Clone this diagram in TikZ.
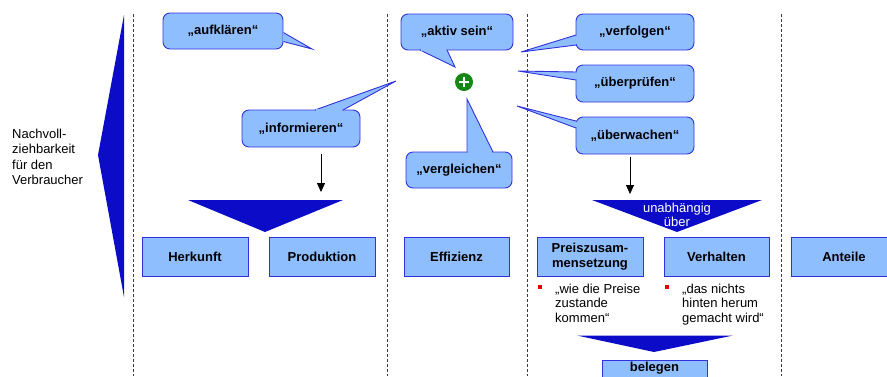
\documentclass[tikz,border=0pt]{standalone}
\usepackage{fontspec}
\setmainfont{Liberation Sans}
\usetikzlibrary{calc,arrows.meta}
\definecolor{cfill}{RGB}{143,190,255}
\definecolor{cline}{RGB}{50,50,220}
\definecolor{dblue}{RGB}{12,12,200}
\definecolor{dgray}{RGB}{60,60,60}
\definecolor{pgreen}{RGB}{20,135,20}
\definecolor{bred}{RGB}{235,0,0}
\tikzset{
  box/.style={draw=cline, fill=cfill, line width=0.9pt, minimum height=39pt,
    font=\bfseries\fontsize{13}{15}\selectfont, inner sep=0pt, align=center},
  callout/.style={box, rounded corners=7pt, minimum height=36pt},
  sepline/.style={draw=dgray, dash pattern=on 3pt off 2pt, line width=0.8pt},
  wedge/.style={fill=dblue},
  arr/.style={-{Triangle[length=9pt,width=8pt]}, line width=0.8pt},
  plaintext/.style={font=\fontsize{13}{15.6}\selectfont, inner sep=0pt, align=left},
  bulletsq/.style={fill=bred, minimum size=4pt, inner sep=0pt},
}
\newcommand\calltail[3]{%
  \filldraw[fill=cfill, draw=cline, line width=0.9pt, line join=miter] #1 -- #2 -- #3;
  \draw[cfill, line width=1.8pt, shorten <=0.6pt, shorten >=0.6pt] #1 -- #3;}
\begin{document}
\begin{tikzpicture}[x=1pt,y=-1pt]
\useasboundingbox (0,0) rectangle (887,376);
\clip (0,0) rectangle (887,376);

% separators
\foreach \n/\x in {s1/133,s2/387,s3/527,s4/781}{
  \coordinate (\n t) at (\x,14);
  \coordinate (\n b) at (\x,376);
  \draw[sepline] (\n t) -- (\n b);
}

% left wedge and text
\fill[wedge] (124,15) -- (98,155) -- (124,297) -- cycle;
\node[plaintext, anchor=north west] (nach) at (12,128.5)
  {Nachvoll-\\ziehbarkeit\\für den\\Verbraucher};

% bottom boxes
\node[box, minimum width=106pt] (herk) at (195,256.5) {Herkunft};
\node[box, minimum width=106pt] (prod) at (322,256.5) {Produktion};
\node[box, minimum width=105pt] (eff) at (456.5,256.5) {Effizienz};
\node[box, minimum width=106pt, font=\bfseries\fontsize{13}{15}\selectfont] (preis) at (590,256.5) {Preiszusam-\\mensetzung};
\node[box, minimum width=105pt] (verh) at (716.5,256.5) {Verhalten};
\node[box, minimum width=106pt] (ant) at (844,256.5) {Anteile};
\node[box, minimum width=105pt, minimum height=17pt] (beleg) at (654.5,368.5) {belegen};

% wedges
\fill[wedge] (188,200) -- (343,200) -- (265,232) -- cycle;
\fill[wedge] (592,200) -- (762,200) -- (677,232) -- cycle;
\node[plaintext, white, align=center] (unab) at (677,215) {unabhängig\\[-1.5pt]über};
\fill[wedge] (577,335.5) -- (733,335.5) -- (654,352) -- cycle;

% bullets
\node[bulletsq] (b1) at (540.3,287.2) {};
\node[bulletsq] (b2) at (667.3,287.2) {};
\node[plaintext, anchor=north west, font=\fontsize{13}{14.6}\selectfont] (t1) at (555,283.5) {„wie die Preise\\zustande\\kommen“};
\node[plaintext, anchor=north west, font=\fontsize{13}{14.6}\selectfont] (t2) at (682,283.5) {„das nichts\\hinten herum\\gemacht wird“};

% callouts
\node[callout, minimum width=120pt] (auf) at (223,31) {„aufklären“};
\coordinate (tauf) at (312,49);
\calltail{($(auf.north east)+(0,20)$)}{(tauf)}{($(auf.north east)+(0,29)$)}

\node[callout, minimum width=118pt, minimum height=37pt] (inf) at (301,128.5) {„informieren“};
\coordinate (tinf) at (396,81);
\calltail{(315,110)}{(tinf)}{(343,110)}

\node[callout, minimum width=112pt] (akt) at (457,32) {„aktiv sein“};
\coordinate (takt) at (455,67);
\calltail{(420,50)}{(takt)}{(447,50)}

\node[callout, minimum width=106pt] (vgl) at (459,170) {„vergleichen“};
\coordinate (tvgl) at (467,99);
\calltail{(467,152)}{(tvgl)}{(493,152)}

\node[callout, minimum width=118pt] (verf) at (635,32) {„verfolgen“};
\coordinate (tverf) at (521,52);
\calltail{(576,35)}{(tverf)}{(576,45)}

\node[callout, minimum width=118pt, minimum height=37pt] (uepr) at (635,83.5) {„überprüfen“};
\coordinate (tuepr) at (518,71);
\calltail{(576,72)}{(tuepr)}{(576,80)}

\node[callout, minimum width=118pt, minimum height=37pt] (uew) at (635,135.5) {„überwachen“};
\coordinate (tuew) at (517,106);
\calltail{(576,121)}{(tuew)}{(576,128)}

% plus sign
\node[circle, fill=pgreen, minimum size=18pt, inner sep=0pt] (plus) at (464,82) {};
\draw[white, line width=2.4pt] ($(plus)+(-5,0)$) -- ($(plus)+(5,0)$);
\draw[white, line width=2.4pt] ($(plus)+(0,-5)$) -- ($(plus)+(0,5)$);

% arrows
\coordinate (a1s) at (321,154);
\coordinate (a1e) at (321,192);
\draw[arr] (a1s) -- (a1e);
\coordinate (a2s) at (630,157);
\coordinate (a2e) at (630,194);
\draw[arr] (a2s) -- (a2e);
\end{tikzpicture}
\end{document}
